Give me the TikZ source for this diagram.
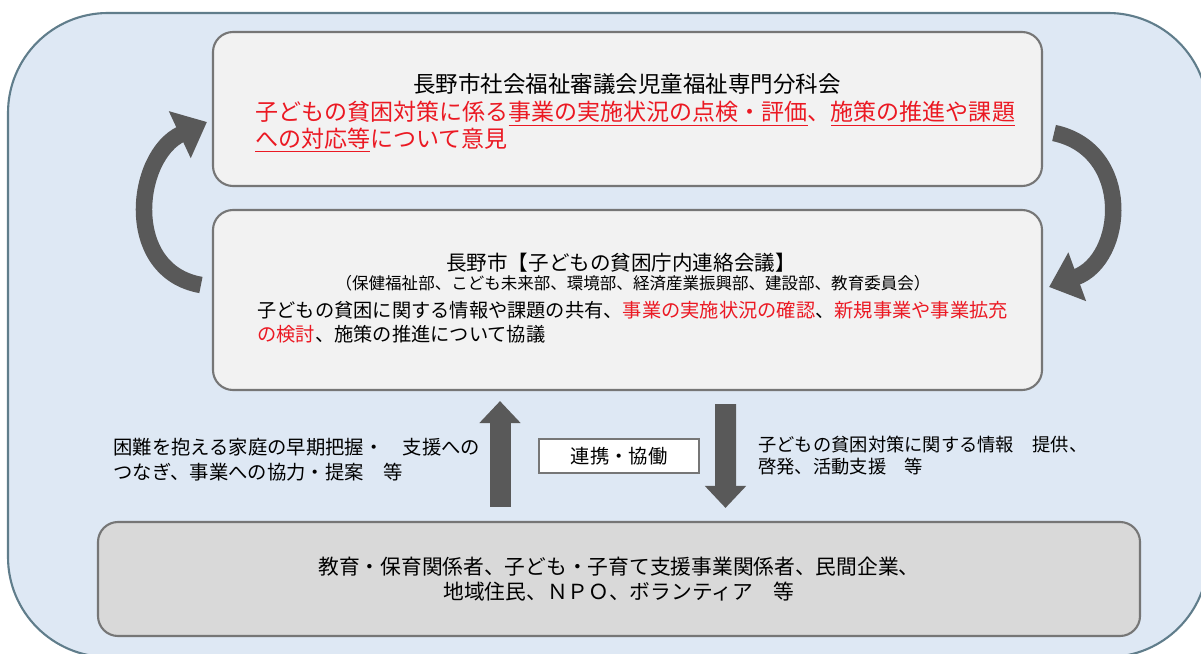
\documentclass[tikz,border=0pt]{standalone}
\usepackage{fontspec}
\setmainfont{Noto Sans CJK JP}
\usetikzlibrary{arrows.meta}

\definecolor{framefill}{RGB}{222,232,244}
\definecolor{frameline}{RGB}{96,125,139}
\definecolor{panelfill}{RGB}{242,242,242}
\definecolor{partnerfill}{RGB}{217,217,217}
\definecolor{boxline}{RGB}{118,118,118}
\definecolor{arrowgray}{RGB}{89,89,89}
\definecolor{notered}{RGB}{235,25,35}

\def\rad{2cm}
\def\fsz#1#2{\fontsize{#1}{#2}\selectfont}

\begin{document}
\begin{tikzpicture}[]
  \tikzset{panel/.style={rounded corners=0.4cm,draw=boxline,line width=1.2pt,fill=panelfill,minimum width=16.58cm},
    txt/.style={inner sep=0pt,align=left},
    cycle arrow/.style={draw=arrowgray,line width=0.33cm,-{Triangle[length=0.6cm,width=1cm]}},
    flow/.style={draw=arrowgray,line width=0.42cm,-{Triangle[length=0.44cm,width=0.8cm]}}}

  \useasboundingbox (0,0) rectangle (24.02,-13.08);
  \clip (0,0) rectangle (24.02,-13.08);
  \node[rounded corners=\rad,fill=framefill,draw=frameline,line width=1.2pt,minimum width=24cm,minimum height=12.88cm] at (12.16,-6.7) (area) {};

  \node[panel,minimum height=3.08cm] at (12.55,-2.18) (council) {};
  \node[font=\fsz{12.8pt}{15pt}] at (12.54,-1.68) (councilhead) {長野市社会福祉審議会児童福祉専門分科会};
  \node[txt,anchor=west,text=notered,font=\fsz{13.1pt}{13.6pt}] at (5.10,-2.54) (councilbody)
    {子どもの貧困対策に係る\underline{事業の実施状況の点検・評価}、\underline{施策の推進や課題}\\\underline{への対応等}について意見};

  \node[panel,minimum height=3.6cm] at (12.55,-6.0) (liaison) {};
  \node[font=\fsz{11.7pt}{14pt}] at (12.42,-5.26) (liaisonhead) {長野市【子どもの貧困庁内連絡会議】};
  \node[font=\fsz{9.4pt}{11pt}] at (12.66,-5.66) (depts) {（保健福祉部、こども未来部、環境部、経済産業振興部、建設部、教育委員会）};
  \node[txt,anchor=west,font=\fsz{10.95pt}{13.6pt}] at (5.14,-6.44) (liaisonbody)
    {子どもの貧困に関する情報や課題の共有、\textcolor{notered}{事業の実施状況の確認}、\textcolor{notered}{新規事業や事業拡充}\\\textcolor{notered}{の検討}、施策の推進について協議};

  \node[panel,fill=partnerfill,minimum width=20.84cm,minimum height=2.28cm,align=center,font=\fsz{11.8pt}{14.2pt}] at (12.38,-11.58) (partners)
    {教育・保育関係者、子ども・子育て支援事業関係者、民間企業、\\地域住民、ＮＰＯ、ボランティア　等};

  \node[draw=boxline,fill=white,line width=0.8pt,minimum width=3.2cm,minimum height=0.68cm,font=\fsz{11pt}{13pt}] at (12.38,-9.12) (coop) {連携・協働};
  \node[txt,anchor=west,font=\fsz{11pt}{14.2pt}] at (2.26,-9.19) (upnote) {困難を抱える家庭の早期把握・　支援への\\つなぎ、事業への協力・提案　等};
  \node[txt,anchor=west,font=\fsz{10.4pt}{12.5pt}] at (15.16,-9.12) (downnote) {子どもの貧困対策に関する情報　提供、\\啓発、活動支援　等};

  % up and down between liaison and partners
  \draw[flow] ([xshift=-2.38cm,yshift=0.28cm]partners.north) -- ([xshift=-2.55cm,yshift=-0.2cm]liaison.south);
  \draw[flow] ([xshift=1.96cm,yshift=-0.26cm]liaison.south) -- ([xshift=2.13cm,yshift=0.26cm]partners.north);

  % cycle
  \draw[cycle arrow] ([xshift=-0.22cm,yshift=0.30cm]liaison.west) to[out=170,in=205,distance=1.6cm] ([xshift=-0.10cm,yshift=-0.26cm]council.west);
  \draw[cycle arrow] ([xshift=0.22cm,yshift=-0.48cm]council.east) to[out=-12,in=20,distance=1.62cm] ([xshift=0.12cm,yshift=0.26cm]liaison.east);
\end{tikzpicture}
\end{document}
